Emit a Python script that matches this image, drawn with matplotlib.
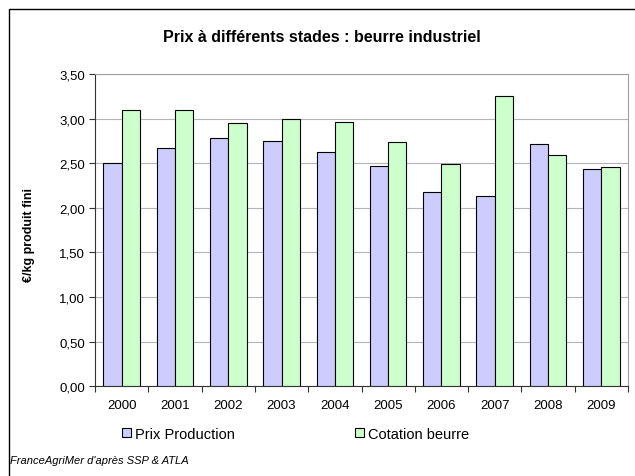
import matplotlib.pyplot as plt
from matplotlib.patches import Rectangle
import numpy as np

plt.rcParams['font.family'] = ['Liberation Sans', 'DejaVu Sans']

years = ['2000', '2001', '2002', '2003', '2004', '2005', '2006', '2007', '2008', '2009']
prix_production = [2.50, 2.67, 2.78, 2.75, 2.63, 2.47, 2.18, 2.13, 2.72, 2.43]
cotation_beurre = [3.10, 3.10, 2.95, 3.00, 2.96, 2.74, 2.49, 3.25, 2.59, 2.46]
y_ticks = [0.0, 0.5, 1.0, 1.5, 2.0, 2.5, 3.0, 3.5]

fig = plt.figure(figsize=(6.35, 4.77), dpi=100)
ax = fig.add_axes([95 / 635, 1 - 387.3 / 477, (628 - 95) / 635, (387.3 - 75) / 477])

# outer chart frame
fig.patches.append(Rectangle((9 / 635, -0.1), 1.0, 1 - 9.5 / 477 + 0.1,
                             transform=fig.transFigure, fill=False,
                             edgecolor='black', linewidth=1.0))

x = np.arange(len(years))
w = 0.343
b1 = ax.bar(x - w / 2, prix_production, w, color='#CCCCFF', edgecolor='black', linewidth=0.8,
            label='Prix Production', zorder=3)
b2 = ax.bar(x + w / 2, cotation_beurre, w, color='#CCFFCC', edgecolor='black', linewidth=0.8,
            label='Cotation beurre', zorder=3)

ax.set_xlim(-0.5, len(years) - 0.5)
ax.set_ylim(0, 3.5)
ax.set_yticks(y_ticks)
ax.set_yticklabels([f'{v:.2f}'.replace('.', ',') for v in y_ticks], fontsize=9.5)
ax.yaxis.grid(True, color='#b4b4b4', linewidth=0.8, zorder=0)

# ticks between categories, labels centred
ax.set_xticks(np.arange(len(years) + 1) - 0.5)
ax.set_xticklabels([])
ax.set_xticks(x, minor=True)
ax.set_xticklabels(years, minor=True, fontsize=9.5)
ax.tick_params(axis='x', which='minor', length=0, pad=9)
ax.tick_params(axis='x', which='major', length=4, direction='out', color='#333333')
ax.tick_params(axis='y', length=4, direction='out', color='#333333', pad=3)

ax.spines['left'].set_color('#333333')
ax.spines['bottom'].set_color('#333333')
ax.spines['top'].set_color('#a0a0a0')
ax.spines['right'].set_color('#a0a0a0')

fig.text(29 / 635, 1 - 235 / 477, '€/kg produit fini', rotation=90,
         ha='center', va='center', fontsize=9, fontweight='bold')

fig.text(322 / 635, 1 - 37 / 477, 'Prix à différents stades : beurre industriel',
         ha='center', va='center', fontsize=11.5, fontweight='bold')

leg1 = fig.legend(handles=[b1], loc='center left', bbox_to_anchor=(115 / 635, 1 - 435 / 477),
                  frameon=False, fontsize=10.5, handlelength=0.6, handleheight=0.6,
                  handletextpad=0.25, borderpad=0)
leg2 = fig.legend(handles=[b2], loc='center left', bbox_to_anchor=(348 / 635, 1 - 435 / 477),
                  frameon=False, fontsize=10.5, handlelength=0.6, handleheight=0.6,
                  handletextpad=0.25, borderpad=0)

fig.text(10 / 635, 1 - 461 / 477, "FranceAgriMer d'après SSP & ATLA",
         ha='left', va='center', fontsize=8, style='italic')

fig.savefig('out.png', dpi=100)
